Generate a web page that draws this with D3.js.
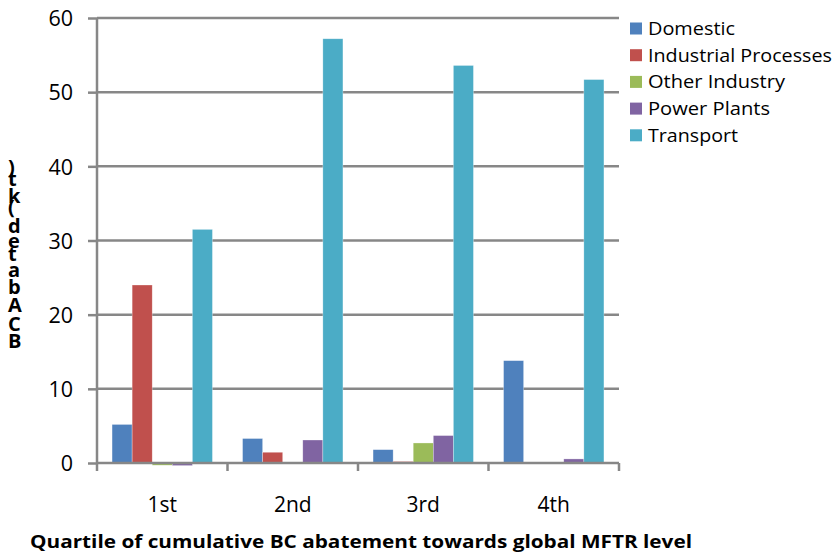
<!DOCTYPE html>
<html>
<head>
<meta charset="utf-8">
<script src="https://cdn.jsdelivr.net/npm/d3@7"></script>
<style>
  html, body { margin: 0; padding: 0; background: #fff; }
  svg text { font-family: "Open Sans", Lato, sans-serif; }
</style>
</head>
<body>
<svg id="chart" width="835" height="557"></svg>
<script>
// Quartiles along the x axis
const quartiles = ["1st", "2nd", "3rd", "4th"];
// Sectors (legend order)
const sectors = ["Domestic", "Industrial Processes", "Other Industry", "Power Plants", "Transport"];
const sectorColors = ["#4F81BD", "#C0504D", "#9BBB59", "#8064A2", "#4BACC6"];
// BC abated per sector, one value per quartile
const domestic = [5.2, 3.3, 1.8, 13.8];
const industrialProcesses = [24.0, 1.45, 0.2, 0.0];
const otherIndustry = [-0.3, 0.0, 2.7, 0.0];
const powerPlants = [-0.35, 3.1, 3.7, 0.55];
const transport = [31.5, 57.2, 53.6, 51.7];
const yTicks = [0, 10, 20, 30, 40, 50, 60];

const seriesValues = [domestic, industrialProcesses, otherIndustry, powerPlants, transport];
// Rendered widths of the legend labels
const legendWidths = [87, 184, 137, 122, 90];

const svg = d3.select("#chart");
const plot = { left: 97, right: 619, top: 18, bottom: 463 };
const axisColor = "#878787";

const x0 = d3.scaleBand().domain(quartiles).range([plot.left, plot.right]).paddingInner(0).paddingOuter(0);
const x1 = d3.scaleBand().domain(sectors).range([0, x0.bandwidth()])
  .paddingInner(0).paddingOuter(0.75); // 150% gap split on each side
const y = d3.scaleLinear().domain([0, 60]).range([plot.bottom, plot.top]);

// Horizontal gridlines
svg.append("g").selectAll("line").data(yTicks.filter(t => t !== 0)).join("line")
  .attr("x1", plot.left).attr("x2", plot.right)
  .attr("y1", d => y(d)).attr("y2", d => y(d))
  .attr("stroke", axisColor).attr("stroke-width", 2.5);

// Bars
const groups = svg.append("g").selectAll("g").data(quartiles).join("g")
  .attr("transform", d => `translate(${x0(d)},0)`);
groups.selectAll("rect")
  .data((q, qi) => sectors.map((s, si) => ({ s, si, v: seriesValues[si][qi] })))
  .join("rect")
  .attr("x", d => x1(d.s))
  .attr("width", x1.bandwidth())
  .attr("y", d => y(Math.max(0, d.v)))
  .attr("height", d => Math.abs(y(d.v) - y(0)))
  .attr("fill", d => sectorColors[d.si])
  .attr("stroke", "rgba(255,255,255,0.5)")
  .attr("stroke-width", 0.6);

// Y axis
const yAxis = svg.append("g").attr("transform", `translate(${plot.left},0)`)
  .call(d3.axisLeft(y).tickValues(yTicks).tickSize(9).tickPadding(15).tickFormat(d3.format("d")));
yAxis.select(".domain").attr("stroke", axisColor).attr("stroke-width", 2.5)
  .attr("d", `M0,${plot.top}V${plot.bottom}`);
yAxis.selectAll(".tick line").attr("stroke", axisColor).attr("stroke-width", 2.5);
yAxis.selectAll(".tick text").attr("font-size", 21.5).attr("fill", "#000")
  .attr("dy", "0.36em")
  .style("font-family", "'Open Sans', sans-serif");

// X axis
const xAxis = svg.append("g").attr("transform", `translate(0,${plot.bottom})`)
  .call(d3.axisBottom(x0).tickSize(0).tickPadding(34));
xAxis.select(".domain").remove();
xAxis.append("line").attr("x1", plot.left).attr("x2", plot.right)
  .attr("stroke", axisColor).attr("stroke-width", 2.5);
xAxis.selectAll(".tick text").attr("font-size", 21).attr("fill", "#000")
  .style("font-family", "'Open Sans', sans-serif");
// Category separator ticks
const boundaries = quartiles.map(q => x0(q)).concat([plot.right]);
xAxis.append("g").selectAll("line").data(boundaries).join("line")
  .attr("x1", d => d).attr("x2", d => d).attr("y1", 0).attr("y2", 8)
  .attr("stroke", axisColor).attr("stroke-width", 2.5);

// X axis title
svg.append("text").attr("x", 30).attr("y", 548)
  .attr("textLength", 662).attr("lengthAdjust", "spacingAndGlyphs")
  .attr("font-size", 18).attr("font-weight", "bold").attr("fill", "#000")
  .text("Quartile of cumulative BC abatement towards global MFTR level");

// Y axis title: upright glyphs stacked along a vertical baseline
svg.append("text")
  .attr("transform", "translate(8,348) rotate(-90)")
  .attr("rotate", 90)
  .style("letter-spacing", "4px")
  .style("word-spacing", "-7px")
  .attr("font-size", 20).attr("font-weight", "bold").attr("fill", "#000")
  .text("BC Abated (kt)");

// Legend
const legend = svg.append("g").attr("transform", "translate(630,22)");
const rows = legend.selectAll("g").data(sectors).join("g")
  .attr("transform", (d, i) => `translate(0,${i * 26.7})`);
rows.append("rect").attr("y", 0.5).attr("width", 12).attr("height", 12)
  .attr("fill", (d, i) => sectorColors[i]);
rows.append("text").attr("x", 18).attr("y", 13).attr("font-size", 18.5).attr("fill", "#000")
  .attr("textLength", (d, i) => legendWidths[i]).attr("lengthAdjust", "spacingAndGlyphs")
  .text(d => d);
</script>
</body>
</html>
